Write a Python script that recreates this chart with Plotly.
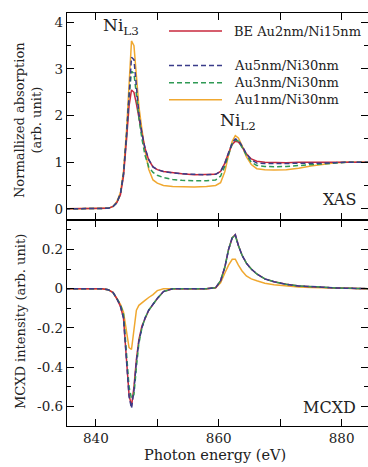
import plotly.graph_objects as go
from plotly.subplots import make_subplots

# ---------------- data ----------------
energy = [835, 838, 841, 842, 842.8, 843.4, 844.0, 844.5, 845.0, 845.4, 845.8, 846.2,
          846.6, 847.0, 847.5, 848.0, 848.6, 849.3, 850.0, 851, 852.5, 854, 856, 858,
          859.5, 860.3, 861.0, 861.6, 862.2, 862.7, 863.2, 863.8, 864.5, 865.3, 866.2,
          867.5, 869, 871, 873, 875, 877, 879, 881, 884.5]

series_names = ["BE Au2nm/Ni15nm", "Au5nm/Ni30nm", "Au3nm/Ni30nm", "Au1nm/Ni30nm"]

xas_be = [0, 0, 0, 0.01, 0.05, 0.13, 0.3, 0.7, 1.5, 2.2, 2.55, 2.5,
          2.25, 1.95, 1.6, 1.3, 1.05, 0.9, 0.84, 0.8, 0.77, 0.75, 0.73, 0.73,
          0.74, 0.8, 0.98, 1.2, 1.38, 1.45, 1.43, 1.33, 1.18, 1.07, 1.02,
          1.0, 0.99, 0.99, 1.0, 1.0, 1.0, 1.0, 1.0, 1.0]
xas_au5 = [0, 0, 0, 0.01, 0.05, 0.13, 0.32, 0.75, 1.6, 2.5, 3.25, 3.2,
           2.6, 2.05, 1.62, 1.3, 1.06, 0.9, 0.84, 0.8, 0.77, 0.75, 0.74, 0.73,
           0.74, 0.8, 0.98, 1.22, 1.42, 1.5, 1.47, 1.35, 1.18, 1.05, 0.98,
           0.97, 0.97, 0.97, 0.97, 0.98, 0.98, 0.99, 1.0, 1.0]
xas_au3 = [0, 0, 0, 0.01, 0.05, 0.13, 0.32, 0.75, 1.6, 2.4, 2.95, 2.9,
           2.45, 1.95, 1.5, 1.15, 0.9, 0.78, 0.72, 0.67, 0.63, 0.61, 0.6, 0.6,
           0.62, 0.7, 0.92, 1.18, 1.4, 1.48, 1.45, 1.32, 1.15, 1.0, 0.93,
           0.91, 0.9, 0.91, 0.93, 0.95, 0.97, 0.99, 1.0, 1.0]
xas_au1 = [0, 0, 0, 0.01, 0.05, 0.15, 0.35, 0.8, 1.7, 2.7, 3.6, 3.5,
           2.8, 2.2, 1.7, 1.25, 0.85, 0.62, 0.55, 0.5, 0.48, 0.47, 0.47, 0.48,
           0.5, 0.56, 0.8, 1.15, 1.45, 1.57, 1.52, 1.35, 1.12, 0.95, 0.86,
           0.84, 0.83, 0.84, 0.87, 0.92, 0.96, 0.99, 1.0, 1.0]

mcxd_be = [0, 0, 0, -0.005, -0.02, -0.05, -0.09, -0.15, -0.37, -0.54, -0.6, -0.5,
           -0.36, -0.26, -0.19, -0.15, -0.11, -0.08, -0.05, -0.015, 0, 0, 0, 0,
           0.005, 0.04, 0.11, 0.2, 0.26, 0.275, 0.22, 0.17, 0.13, 0.1, 0.075,
           0.05, 0.035, 0.022, 0.014, 0.01, 0.006, 0.004, 0.002, 0]
mcxd_au5 = [0, 0, 0, -0.005, -0.02, -0.05, -0.09, -0.15, -0.38, -0.55, -0.61, -0.52,
            -0.37, -0.27, -0.2, -0.15, -0.11, -0.08, -0.05, -0.015, 0, 0, 0, 0,
            0.005, 0.04, 0.11, 0.2, 0.26, 0.275, 0.22, 0.17, 0.13, 0.1, 0.075,
            0.05, 0.035, 0.022, 0.014, 0.01, 0.006, 0.004, 0.002, 0]
mcxd_au3 = [0, 0, 0, -0.005, -0.02, -0.05, -0.08, -0.13, -0.33, -0.5, -0.56, -0.54,
            -0.4, -0.28, -0.2, -0.15, -0.11, -0.08, -0.05, -0.015, 0, 0, 0, 0,
            0.005, 0.04, 0.11, 0.2, 0.26, 0.27, 0.22, 0.17, 0.13, 0.1, 0.075,
            0.05, 0.035, 0.022, 0.014, 0.01, 0.006, 0.004, 0.002, 0]
mcxd_au1 = [0, 0, 0, -0.005, -0.02, -0.05, -0.08, -0.12, -0.22, -0.3, -0.31, -0.22,
            -0.11, -0.085, -0.07, -0.06, -0.045, -0.03, -0.01, 0, 0, 0, 0, 0,
            0.005, 0.03, 0.08, 0.12, 0.15, 0.15, 0.12, 0.09, 0.065, 0.05, 0.04,
            0.028, 0.02, 0.013, 0.009, 0.006, 0.004, 0.003, 0.002, 0]

x_tickvals = [840, 860, 880]
x_ticktext = ["840", "860", "880"]
x_minorvals = [850, 870]
top_tickvals = [0, 1, 2, 3, 4]
top_ticktext = ["0", "1", "2", "3", "4"]
bot_tickvals = [-0.6, -0.4, -0.2, 0, 0.2]
bot_ticktext = ["-0.6", "-0.4", "-0.2", "0", "0.2"]

# ---------------- style ----------------
FONT = "DejaVu Serif"
colors = {"BE Au2nm/Ni15nm": "#c8283c", "Au5nm/Ni30nm": "#3a3c8a",
          "Au3nm/Ni30nm": "#2f9a55", "Au1nm/Ni30nm": "#f0a830"}
dashes = {"BE Au2nm/Ni15nm": "solid", "Au5nm/Ni30nm": "5px,3px",
          "Au3nm/Ni30nm": "5px,3px", "Au1nm/Ni30nm": "solid"}

fig = make_subplots(rows=2, cols=1, shared_xaxes=True, vertical_spacing=0)

xas = {"BE Au2nm/Ni15nm": xas_be, "Au5nm/Ni30nm": xas_au5,
       "Au3nm/Ni30nm": xas_au3, "Au1nm/Ni30nm": xas_au1}
mcxd = {"BE Au2nm/Ni15nm": mcxd_be, "Au5nm/Ni30nm": mcxd_au5,
        "Au3nm/Ni30nm": mcxd_au3, "Au1nm/Ni30nm": mcxd_au1}

order = ["Au1nm/Ni30nm", "BE Au2nm/Ni15nm", "Au3nm/Ni30nm", "Au5nm/Ni30nm"]
for name in order:
    fig.add_trace(go.Scatter(x=energy, y=xas[name], mode="lines", name=name,
                             line=dict(color=colors[name], width=1.5, dash=dashes[name]),
                             showlegend=False), row=1, col=1)
    fig.add_trace(go.Scatter(x=energy, y=mcxd[name], mode="lines", name=name,
                             line=dict(color=colors[name], width=1.5, dash=dashes[name]),
                             showlegend=False), row=2, col=1)

W, H = 368, 467
L, R, T, B = 67, 0, 13, 41
plot_w = W - L - R
plot_h = H - T - B
split = (426 - 220) / plot_h

axis_common = dict(showline=True, linecolor="black", linewidth=1.3, mirror="allticks",
                   ticks="inside", tickcolor="black", tickwidth=1.2, showgrid=False,
                   zeroline=False, tickfont=dict(family=FONT, size=13.5, color="#222"))

fig.update_xaxes(**axis_common, range=[835.3, 884.3], tickmode="array",
                 tickvals=x_tickvals, ticktext=x_ticktext, ticklen=7,
                 minor=dict(tickvals=x_minorvals, ticklen=7, ticks="inside",
                            tickcolor="black", tickwidth=1.2))
fig.update_xaxes(showticklabels=False, row=1, col=1)
fig.update_yaxes(**axis_common)
fig.update_yaxes(range=[-0.24, 4.2], tickmode="array", tickvals=top_tickvals,
                 ticktext=top_ticktext, ticklen=7,
                 minor=dict(tickvals=[0.5, 1.5, 2.5, 3.5], ticklen=4, ticks="inside",
                            tickcolor="black", tickwidth=1.2),
                 domain=[split, 1], row=1, col=1)
fig.update_yaxes(range=[-0.7, 0.35], tickmode="array", tickvals=bot_tickvals,
                 ticktext=bot_ticktext, ticklen=7,
                 minor=dict(tickvals=[-0.5, -0.3, -0.1, 0.1, 0.3], ticklen=4, ticks="inside",
                            tickcolor="black", tickwidth=1.2),
                 domain=[0, split], row=2, col=1)

def px_x(p):
    return (p - L) / plot_w

def px_y(p):
    return (H - B - p) / plot_h

annotations = [
    dict(text="Ni<sub>L3</sub>", x=844.1, y=3.9, xref="x", yref="y", showarrow=False,
         font=dict(family=FONT, size=17, color="#222")),
    dict(text="Ni<sub>L2</sub>", x=863.2, y=1.87, xref="x", yref="y", showarrow=False,
         font=dict(family=FONT, size=17, color="#222")),
    dict(text="XAS", x=px_x(358), y=px_y(200), xref="paper", yref="paper", showarrow=False,
         xanchor="right", yanchor="middle", font=dict(family=FONT, size=16, color="#222")),
    dict(text="MCXD", x=px_x(358), y=px_y(407), xref="paper", yref="paper", showarrow=False,
         xanchor="right", yanchor="middle", font=dict(family=FONT, size=16, color="#222")),
    dict(text="Normallized absorption<br>(arb. unit)", x=px_x(28), y=px_y(120),
         xref="paper", yref="paper", showarrow=False, textangle=-90,
         xanchor="center", yanchor="middle", font=dict(family=FONT, size=13, color="#222")),
    dict(text="MCXD intensity (arb. unit)", x=px_x(20), y=px_y(322),
         xref="paper", yref="paper", showarrow=False, textangle=-90,
         xanchor="center", yanchor="middle", font=dict(family=FONT, size=13, color="#222")),
    dict(text="Photon energy (eV)", x=px_x(215), y=px_y(455),
         xref="paper", yref="paper", showarrow=False,
         xanchor="center", yanchor="middle", font=dict(family=FONT, size=14.5, color="#222")),
]

shapes = []
legend_rows = [("BE Au2nm/Ni15nm", 31), ("Au5nm/Ni30nm", 65.5),
               ("Au3nm/Ni30nm", 82.7), ("Au1nm/Ni30nm", 99.7)]
for name, py in legend_rows:
    shapes.append(dict(type="line", xref="paper", yref="paper",
                       x0=px_x(169), x1=px_x(222), y0=px_y(py), y1=px_y(py),
                       line=dict(color=colors[name], width=1.5, dash=dashes[name])))
    annotations.append(dict(text=name, x=px_x(232), y=px_y(py), xref="paper", yref="paper",
                            showarrow=False, xanchor="left", yanchor="middle",
                            font=dict(family=FONT, size=13, color="#222")))

fig.update_layout(width=W, height=H, margin=dict(l=L, r=R, t=T, b=B),
                  paper_bgcolor="white", plot_bgcolor="white",
                  annotations=annotations, shapes=shapes, showlegend=False)

fig.write_html("out.html", config={"displayModeBar": False},
               post_script="document.body.style.margin='0';document.body.style.overflow='hidden';")
